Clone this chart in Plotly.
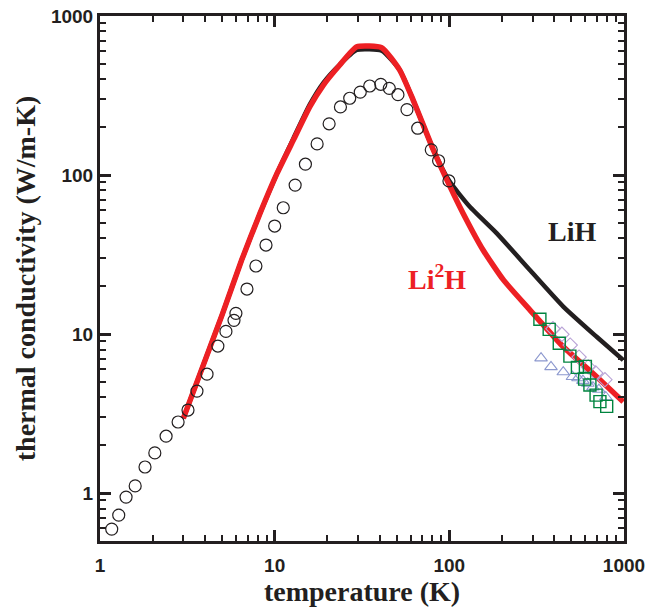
import plotly.graph_objects as go

# --- data ---
# LiH (black line)
lih_T = [3.0, 5.0, 6.47, 8.24, 10.3, 12.8, 15.9, 19.0, 23.6, 29.5, 41, 52, 62, 81, 100, 131, 187, 289, 449, 697, 990]
lih_k = [2.95, 13.2, 29.2, 57.4, 102, 170, 278, 380, 495, 612, 605, 457, 297, 144, 91.7, 63.2, 43, 25.3, 14.9, 9.62, 6.86]

# Li2H (red line)
li2h_T = [3.0, 5.0, 6.47, 8.24, 10.3, 12.8, 15.9, 19.0, 23.6, 29.5, 41, 52, 62, 81, 100, 120, 156, 204, 289, 449, 697, 990]
li2h_k = [2.95, 13.2, 29.2, 57.4, 102, 166, 269, 368, 492, 640, 632, 457, 297, 144, 86.5, 57.4, 33.8, 21.9, 14.2, 8.32, 5.39, 3.75]

# open circles (measured data)
circ_T = [1.167, 1.28, 1.41, 1.59, 1.81, 2.06, 2.39, 2.80, 3.19, 3.59, 4.10, 4.73, 5.26, 5.85, 6.0,
          6.94, 7.81, 8.92, 10.0, 11.2, 13.1, 15.0, 17.5, 20.5, 23.8, 26.9, 30.9, 35.0, 40.5,
          45.3, 50.8, 57.2, 65.9, 78.8, 86.8, 99.5]
circ_k = [0.594, 0.727, 0.944, 1.11, 1.46, 1.79, 2.28, 2.80, 3.33, 4.38, 5.60, 8.41, 10.4, 12.2, 13.5,
          19.2, 26.8, 36.3, 47.8, 62.3, 86.5, 117, 157, 210, 268, 304, 332, 363, 372,
          351, 320, 258, 197, 144, 123, 91.8]

# open squares (green)
sq_T = [330, 373, 426, 490, 541, 601, 595, 638, 692, 728, 796]
sq_k = [12.4, 10.7, 8.75, 7.27, 6.18, 6.27, 5.21, 4.78, 4.13, 3.76, 3.51]

# open triangles (blue)
tri_T = [335, 382, 449, 507, 545, 582, 621, 664, 718, 787]
tri_k = [7.06, 6.22, 5.77, 5.39, 5.29, 5.10, 4.89, 4.64, 4.48, 4.02]

# open diamonds (lavender)
dia_T = [392, 441, 492, 553, 624, 689, 778]
dia_k = [10.8, 9.97, 8.53, 7.17, 6.22, 5.69, 5.17]

# tick values / labels
major_vals_x = [1, 10, 100, 1000]
major_vals_y = [1, 10, 100, 1000]
major_text = ["1", "10", "100", "1000"]
minor_vals = [m * d for d in (0.1, 1, 10, 100) for m in range(2, 10)]

x_title = "temperature (K)"
y_title = "thermal conductivity (W/m-K)"
label_lih = "LiH"
label_li2h = "Li<sup>2</sup>H"

INK = "#231F20"
RED = "#ED2024"

fig = go.Figure()
fig.add_trace(go.Scatter(x=lih_T, y=lih_k, mode="lines",
                         line=dict(color=INK, width=4.5, shape="spline", smoothing=0.5),
                         showlegend=False))
fig.add_trace(go.Scatter(x=li2h_T, y=li2h_k, mode="lines",
                         line=dict(color=RED, width=5.5, shape="spline", smoothing=0.5),
                         showlegend=False))
fig.add_trace(go.Scatter(x=circ_T, y=circ_k, mode="markers",
                         marker=dict(symbol="circle-open", size=12, color=INK, line=dict(width=1.2)),
                         showlegend=False))
fig.add_trace(go.Scatter(x=tri_T, y=tri_k, mode="markers",
                         marker=dict(symbol="triangle-up-open", size=11, color="#8C98CE", line=dict(width=1.1)),
                         showlegend=False))
fig.add_trace(go.Scatter(x=dia_T, y=dia_k, mode="markers",
                         marker=dict(symbol="diamond-open", size=11, color="#B8A2D6", line=dict(width=1.1)),
                         showlegend=False))
fig.add_trace(go.Scatter(x=sq_T, y=sq_k, mode="markers",
                         marker=dict(symbol="square-open", size=12, color="#00843F", line=dict(width=1.4)),
                         showlegend=False))

tickfont = dict(family="Liberation Sans", size=19, color=INK, weight="bold")
titlefont = dict(family="Liberation Serif", size=28, color=INK, weight="bold")
minor = dict(ticks="inside", ticklen=6, tickwidth=2, tickcolor=INK,
             tickmode="array", tickvals=minor_vals, showgrid=False)

common = dict(type="log", showline=True, linecolor=INK, linewidth=3, mirror="allticks",
              ticks="inside", ticklen=11, tickwidth=2.5, tickcolor=INK,
              showgrid=False, zeroline=False, tickfont=tickfont, automargin=False,
              ticklabeloverflow="allow",
              tickmode="array", ticktext=major_text, minor=minor)

fig.update_xaxes(range=[0, 3], tickvals=major_vals_x, ticklabelstandoff=5,
                 title=dict(text=x_title, font=titlefont, standoff=5), **common)
fig.update_yaxes(range=[-0.301, 3], tickvals=major_vals_y,
                 title=dict(text=y_title, font=titlefont, standoff=8), **common)

fig.add_annotation(text=label_lih, xref="paper", yref="paper", x=0.901, y=0.590,
                   xanchor="center", yanchor="middle", showarrow=False,
                   font=dict(family="Liberation Serif", size=28, color=INK, weight="bold"))
fig.add_annotation(text=label_li2h, xref="paper", yref="paper", x=0.643, y=0.501,
                   xanchor="center", yanchor="middle", showarrow=False,
                   font=dict(family="Liberation Serif", size=28, color=RED, weight="bold"))

fig.update_layout(width=646, height=616, margin=dict(l=100, r=22, t=16, b=75),
                  plot_bgcolor="white", paper_bgcolor="white")

# remove the browser's default 8 px page margin so the figure fills the window exactly
fig.write_html("out.html", config={"displayModeBar": False},
               post_script="document.body.style.margin='0';document.body.style.overflow='hidden';")
